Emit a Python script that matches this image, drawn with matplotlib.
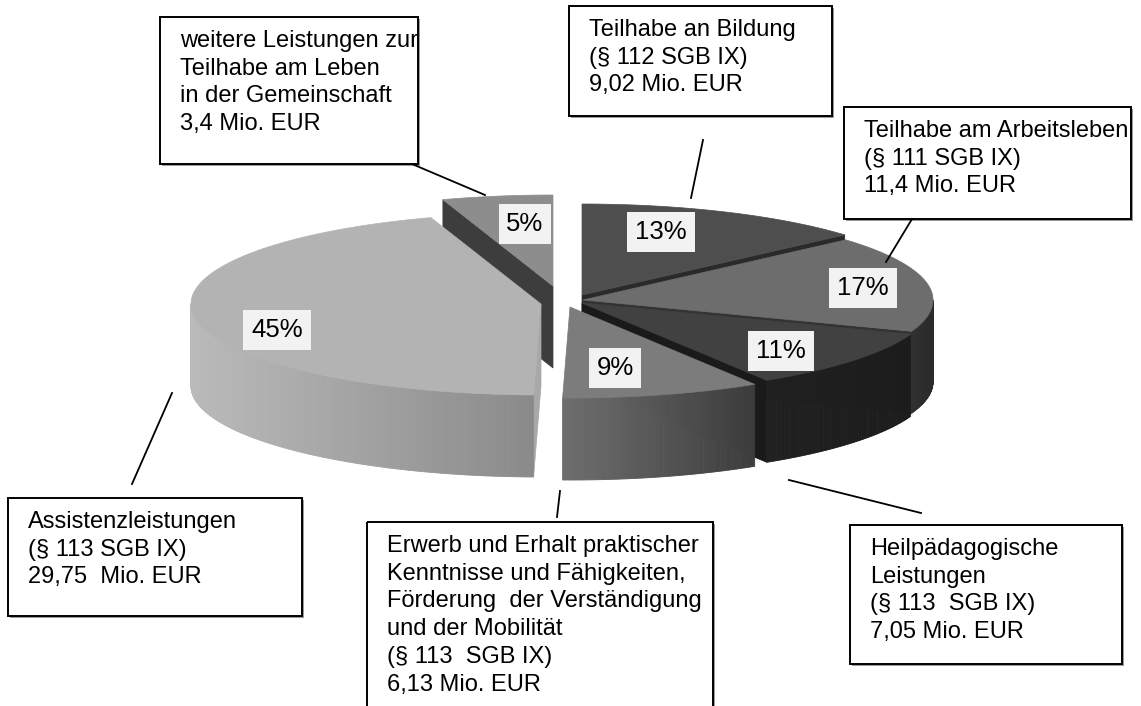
import numpy as np
import matplotlib.pyplot as plt
from matplotlib.patches import Polygon, Rectangle
from matplotlib.collections import PolyCollection
from matplotlib.colors import to_rgb

plt.rcParams['font.family'] = ['Liberation Sans', 'DejaVu Sans']

# slices clockwise from 12 o'clock, Mio. EUR
amounts = [9.02, 11.4, 7.05, 6.13, 29.75, 3.4]
shares = [13, 17, 11, 9, 45, 5]
callouts = [
    ['Teilhabe an Bildung', '(§ 112 SGB IX)', '9,02 Mio. EUR'],
    ['Teilhabe am Arbeitsleben', '(§ 111 SGB IX)', '11,4 Mio. EUR'],
    ['Heilpädagogische', 'Leistungen', '(§ 113  SGB IX)', '7,05 Mio. EUR'],
    ['Erwerb und Erhalt praktischer', 'Kenntnisse und Fähigkeiten,',
     'Förderung  der Verständigung', 'und der Mobilität', '(§ 113  SGB IX)',
     '6,13 Mio. EUR'],
    ['Assistenzleistungen', '(§ 113 SGB IX)', '29,75  Mio. EUR'],
    ['weitere Leistungen zur', 'Teilhabe am Leben', 'in der Gemeinschaft',
     '3,4 Mio. EUR'],
]

# layout (pixel coords, y down)
cx, cy = 566, 300
rx, ry, depth = 350, 91, 82
explode = [(16, -5), (17, 0), (16, 3), (4, 7), (-25, 4), (-13, -14)]
top_col = ['#4e4e4e', '#6d6d6d', '#414141', '#7c7c7c', '#b3b3b3', '#8d8d8d']
side_col = [('#2c2c2c', '#2c2c2c'), ('#303030', '#2a2a2a'), ('#202020', '#1c1c1c'),
            ('#6e6e6e', '#3c3c3c'), ('#bababa', '#8a8a8a'), ('#3c3c3c', '#3c3c3c')]
face_col = ['#2a2a2a', '#333333', '#1a1a1a', '#555555', '#a8a8a8', '#3d3d3d']
pct_pos = [(661, 232), (863, 288), (781, 351), (615, 368), (277, 330), (525, 224)]
boxes = [(569, 6, 832, 116), (844, 107, 1131, 219), (850, 525, 1122, 664),
         (367, 522, 713, 740), (8, 498, 302, 616), (160, 17, 418, 164)]
leaders = [((703, 140), (691, 198)), ((912, 219), (886, 262)),
           ((789, 480), (921, 513)), ((560, 491), (557, 517)),
           ((172, 393), (132, 484)), ((412, 164), (485, 195))]

fig = plt.figure(figsize=(11.41, 7.06), dpi=100)
ax = fig.add_axes([0, 0, 1, 1])
ax.set_xlim(0, 1141)
ax.set_ylim(706, 0)
ax.axis('off')

total = sum(amounts)
edges = np.concatenate([[0], np.cumsum(amounts)]) / total * 360


def rim(ox, oy, th):
    th = np.radians(th)
    return ox + rx * np.sin(th), oy - ry * np.cos(th)


def mix(c1, c2, t):
    a, b = np.array(to_rgb(c1)), np.array(to_rgb(c2))
    return tuple(a + (b - a) * t)


mids = (edges[:-1] + edges[1:]) / 2
order = np.argsort(-np.cos(np.radians(mids)))
z = 1
for i in order:
    th1, th2 = edges[i], edges[i + 1]
    ox, oy = cx + explode[i][0], cy + explode[i][1]
    # radial faces
    for th, vis in [(th1, np.sin(np.radians(th1)) < -1e-6),
                    (th2, np.sin(np.radians(th2)) > 1e-6)]:
        if vis:
            px, py = rim(ox, oy, th)
            ax.add_patch(Polygon([(ox, oy), (px, py), (px, py + depth), (ox, oy + depth)],
                                 closed=True, fc=face_col[i], ec=face_col[i], lw=0.5, zorder=z))
    # outer side
    lo, hi = max(th1, 90), min(th2, 270)
    if lo < hi:
        t = np.linspace(lo, hi, int((hi - lo) * 2) + 2)
        xs, ys = rim(ox, oy, t)
        x0, x1 = xs.min(), xs.max()
        quads, cols = [], []
        for k in range(len(t) - 1):
            quads.append([(xs[k], ys[k]), (xs[k + 1], ys[k + 1]),
                          (xs[k + 1], ys[k + 1] + depth), (xs[k], ys[k] + depth)])
            f = ((xs[k] + xs[k + 1]) / 2 - x0) / max(x1 - x0, 1)
            cols.append(mix(side_col[i][0], side_col[i][1], f))
        ax.add_collection(PolyCollection(quads, facecolors=cols, edgecolors=cols,
                                         linewidths=0.6, zorder=z + 0.1))
    # top
    t = np.linspace(th1, th2, int((th2 - th1) * 2) + 2)
    xs, ys = rim(ox, oy, t)
    pts = [(ox, oy)] + list(zip(xs, ys))
    ax.add_patch(Polygon(pts, closed=True, fc=top_col[i], ec=top_col[i], lw=0.5,
                         zorder=z + 0.2))
    z += 1

for i, s in enumerate(shares):
    ax.text(pct_pos[i][0], pct_pos[i][1], f'{s}%', ha='center', va='center',
            fontsize=18.5, zorder=20,
            bbox=dict(boxstyle='square,pad=0.3', fc='#f2f2f2', ec='none'))

for i, lines in enumerate(callouts):
    x0, y0, x1, y1 = boxes[i]
    ax.add_patch(Rectangle((x0 + 2, y0 + 2), x1 - x0, y1 - y0, fc='#9a9a9a', ec='none',
                           zorder=21))
    ax.add_patch(Rectangle((x0, y0), x1 - x0, y1 - y0, fc='white', ec='none', zorder=22))
    for k, ln in enumerate(lines):
        ax.text(x0 + 20, y0 + 30 + k * 27.7, ln, ha='left', va='baseline',
                fontsize=17, zorder=23)
    ax.add_patch(Rectangle((x0, y0), x1 - x0, y1 - y0, fc='none', ec='black', lw=1.4,
                           zorder=24))
    (a1, b1), (a2, b2) = leaders[i]
    ax.plot([a1, a2], [b1, b2], color='black', lw=1.3, zorder=25)

fig.savefig('out.png', dpi=100)
